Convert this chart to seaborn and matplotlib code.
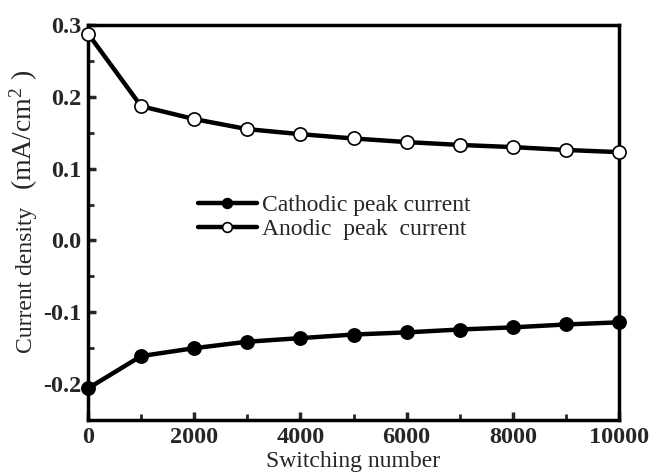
import matplotlib
matplotlib.use("Agg")
import matplotlib.pyplot as plt
import seaborn as sns
import pandas as pd

switching = [0, 1000, 2000, 3000, 4000, 5000, 6000, 7000, 8000, 9000, 10000]
cathodic = [-0.206, -0.161, -0.150, -0.141, -0.136, -0.131, -0.128, -0.124, -0.121, -0.117, -0.114]
anodic = [0.288, 0.187, 0.169, 0.155, 0.148, 0.142, 0.137, 0.133, 0.130, 0.126, 0.123]
xticks = [0, 2000, 4000, 6000, 8000, 10000]
yticks = [-0.2, -0.1, 0.0, 0.1, 0.2, 0.3]

sns.set_theme(style="ticks")
plt.rcParams['font.family'] = ['Liberation Serif', 'DejaVu Serif']
plt.rcParams['mathtext.fontset'] = 'custom'
plt.rcParams['mathtext.rm'] = 'Liberation Serif'
plt.rcParams['mathtext.it'] = 'Liberation Serif:italic'
plt.rcParams['mathtext.bf'] = 'Liberation Serif:bold'

fig = plt.figure(figsize=(6.49, 4.73), dpi=100)
ax = fig.add_axes([88/649, 53/473, 531/649, 395/473])

df_c = pd.DataFrame({"x": switching, "y": cathodic})
df_a = pd.DataFrame({"x": switching, "y": anodic})
sns.lineplot(data=df_c, x="x", y="y", ax=ax, color="black", linewidth=3.2,
             marker="o", markersize=9.5, markerfacecolor="black",
             markeredgecolor="black", markeredgewidth=1.2,
             label="Cathodic peak current", clip_on=False, zorder=3)
sns.lineplot(data=df_a, x="x", y="y", ax=ax, color="black", linewidth=3.2,
             marker="o", markersize=9.5, markerfacecolor="white",
             markeredgecolor="black", markeredgewidth=1.2,
             label="Anodic  peak  current", clip_on=False, zorder=3)

ax.set_xlim(0, 10000)
ax.set_ylim(-0.25, 0.3)
ax.set_xticks(xticks)
ax.set_xticks([1000, 3000, 5000, 7000, 9000], minor=True)
ax.set_yticks(yticks)
ax.set_yticks([-0.25, -0.15, -0.05, 0.05, 0.15, 0.25], minor=True)
ax.set_xticklabels([str(v) for v in xticks], fontweight="bold", fontsize=17.5)
ax.set_yticklabels(["%.1f" % v for v in yticks], fontweight="bold", fontsize=17.5)
ax.tick_params(which="major", direction="in", length=6, width=2.5, pad=5)
ax.tick_params(which="minor", direction="in", length=4, width=2)
for s in ax.spines.values():
    s.set_linewidth(2.5)
    s.set_color("black")

ax.set_xlabel("Switching number", fontsize=17, labelpad=2)
ax.set_ylabel("")
fig.text(32/649, 1 - 353/473, "Current density", rotation=90,
         rotation_mode="anchor", ha="left", va="baseline", fontsize=17)
fig.text(32/649, 1 - 190/473, "(mA/cm$^{2}$ )", rotation=90,
         rotation_mode="anchor", ha="left", va="baseline", fontsize=20)

leg = ax.legend(loc="upper left", bbox_to_anchor=(0.207, 0.57), frameon=False,
                fontsize=17, handlelength=2.5, handletextpad=0.2,
                borderaxespad=0, borderpad=0, labelspacing=0.1)
for h in leg.legend_handles:
    h.set_markersize(7)

fig.savefig("out.png", dpi=100)
